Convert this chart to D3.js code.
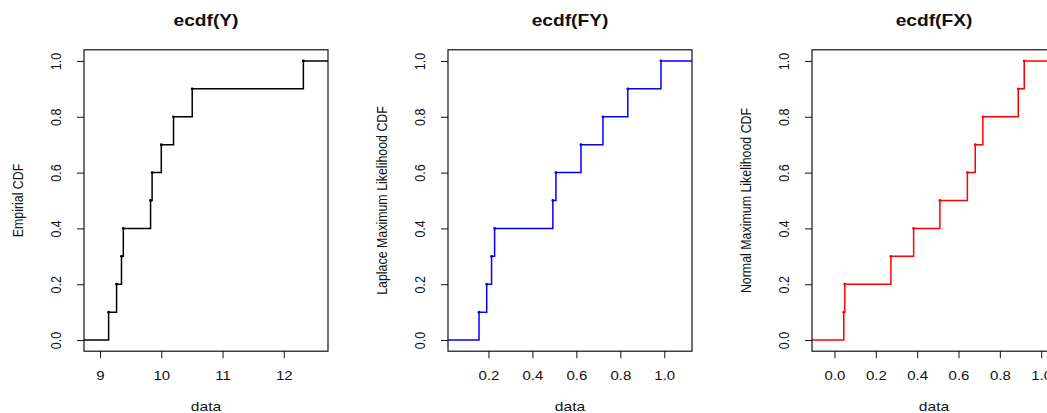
<!DOCTYPE html>
<html>
<head>
    <style>
        body { margin: 0; background: #fff; }
        text { font-family: "Liberation Sans", Arial, sans-serif; fill: #111; }
        .tick text { font-size: 12.5px; }
        .title { font-size: 16px; font-weight: bold; }
        .lab { font-size: 13px; }
        .ylab { font-size: 12.4px; }
        .step { fill: none; stroke-width: 1.5px; }
    </style>
</head>
<body>
    <script src="https://d3js.org/d3.v7.min.js"></script>
    <script>
        // Values
        var yData  = [9.14, 9.27, 9.35, 9.38, 9.825, 9.85, 10.0, 10.2, 10.505, 12.32];
        var fyData = [0.157, 0.192, 0.214, 0.228, 0.493, 0.507, 0.621, 0.721, 0.834, 0.985];
        var fxData = [0.045, 0.050, 0.273, 0.383, 0.510, 0.643, 0.681, 0.718, 0.889, 0.918];

        var titles  = ["ecdf(Y)", "ecdf(FY)", "ecdf(FX)"];
        var yLabels = ["Empirial CDF", "Laplace Maximum Likelihood CDF", "Normal Maximum Likelihood CDF"];
        var xLabel  = "data";
        var yTicks  = [0, 0.2, 0.4, 0.6, 0.8, 1.0];

        var panels = [
            { data: yData,  color: "#000000", fmt: d3.format("d") },
            { data: fyData, color: "#0000ff", fmt: d3.format(".1f") },
            { data: fxData, color: "#ff0000", fmt: d3.format(".1f") }
        ];

        var W = 1047, H = 413;
        var period = 364, firstLeft = 84, boxW = 244;
        var plotTop = 49.8, plotBottom = 351.2;
        var sx = 1.2; // the picture is stretched sideways, so is its text

        var svg = d3.select("body").append("svg")
            .attr("width", W)
            .attr("height", H);

        // R style limits: stepfun range padding, then 4% axis extension
        function rLimits(v) {
            var rx = d3.extent(v);
            var diffs = d3.pairs(v).map(function (p) { return p[1] - p[0]; });
            var dr = Math.max(0.08 * (rx[1] - rx[0]), d3.median(diffs));
            var lo = rx[0] - dr, hi = rx[1] + dr;
            var ext = 0.04 * (hi - lo);
            return [lo - ext, hi + ext];
        }

        var y = d3.scaleLinear().domain([-0.04, 1.04]).range([plotBottom, plotTop]);

        panels.forEach(function (p, i) {
            var left = firstLeft + i * period;
            var vals = p.data.slice().sort(d3.ascending);
            var n = vals.length;
            var dom = rLimits(vals);
            var x = d3.scaleLinear().domain(dom).range([left, left + boxW]);

            var g = svg.append("g");

            svg.append("clipPath").attr("id", "clip" + i)
                .append("rect")
                .attr("x", left).attr("y", plotTop)
                .attr("width", boxW).attr("height", plotBottom - plotTop);

            // step path
            var pts = [[dom[0], 0]];
            vals.forEach(function (v, k) {
                pts.push([v, k / n]);
                pts.push([v, (k + 1) / n]);
            });
            pts.push([dom[1], 1]);

            var line = d3.line()
                .x(function (d) { return x(d[0]); })
                .y(function (d) { return y(d[1]); });

            g.append("path")
                .attr("class", "step")
                .attr("clip-path", "url(#clip" + i + ")")
                .attr("stroke", p.color)
                .attr("d", line(pts));

            g.selectAll(".pt")
                .data(vals)
                .enter().append("circle")
                .attr("cx", function (d) { return x(d); })
                .attr("cy", function (d, k) { return y((k + 1) / n); })
                .attr("r", 1.4)
                .attr("fill", p.color);

            // box
            g.append("rect")
                .attr("x", left).attr("y", plotTop)
                .attr("width", boxW).attr("height", plotBottom - plotTop)
                .attr("fill", "none")
                .attr("stroke", "#111")
                .attr("stroke-width", 1.2);

            // axes
            var xAxis = g.append("g")
                .attr("transform", "translate(0," + plotBottom + ")")
                .call(d3.axisBottom(x).ticks(5).tickFormat(p.fmt).tickSize(7).tickSizeOuter(0));
            xAxis.select(".domain").remove();
            xAxis.selectAll("line").attr("stroke", "#111");
            xAxis.selectAll("text")
                .attr("y", null).attr("dy", null)
                .attr("transform", "translate(0,29) scale(" + sx + ",1)")
                .attr("font-family", null).attr("font-size", null);

            var yAxis = g.append("g")
                .attr("transform", "translate(" + left + ",0)")
                .call(d3.axisLeft(y).tickValues(yTicks).tickFormat(d3.format(".1f")).tickSize(7).tickSizeOuter(0));
            yAxis.select(".domain").remove();
            yAxis.selectAll("line").attr("stroke", "#111");
            yAxis.selectAll("text")
                .attr("x", null).attr("dy", "0.36em")
                .attr("text-anchor", "middle")
                .attr("transform", "translate(-28,0) scale(" + sx + ",1) rotate(-90)")
                .attr("font-family", null).attr("font-size", null);

            // titles and labels
            g.append("text")
                .attr("class", "title")
                .attr("transform", "translate(" + (left + boxW / 2) + ",26) scale(" + sx + ",1)")
                .attr("text-anchor", "middle")
                .text(titles[i]);

            g.append("text")
                .attr("class", "lab")
                .attr("transform", "translate(" + (left + boxW / 2) + ",411) scale(" + sx + ",1)")
                .attr("text-anchor", "middle")
                .text(xLabel);

            g.append("text")
                .attr("class", "ylab")
                .attr("transform", "translate(" + (left - 66) + "," + ((plotTop + plotBottom) / 2) + ") scale(" + sx + ",1) rotate(-90)")
                .attr("dy", "0.36em")
                .attr("text-anchor", "middle")
                .text(yLabels[i]);
        });
    </script>
</body>
</html>
